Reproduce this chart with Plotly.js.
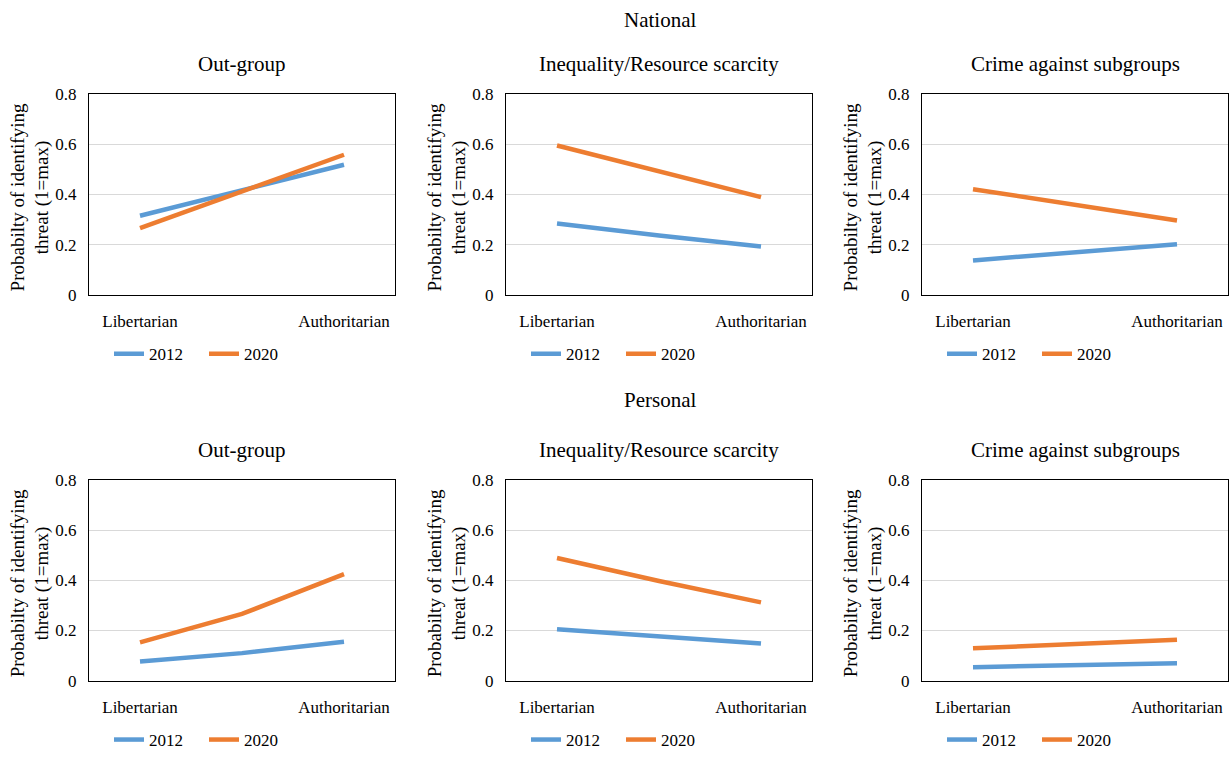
<!DOCTYPE html>
<html>
<head>
<meta charset="utf-8">
<script src="https://cdn.plot.ly/plotly-3.0.1.min.js"></script>
<style>
html,body{margin:0;padding:0;background:#fff;width:1231px;height:758px;overflow:hidden;}
#chart{width:1231px;height:758px;overflow:hidden;}
</style>
</head>
<body>
<div id="chart"></div>
<script>
// ---- data ----
const categories = ["Libertarian", "Middle", "Authoritarian"];
const shownTicks = ["Libertarian", "Authoritarian"];
const seriesNames = ["2012", "2020"];
const panelTitles = ["Out-group", "Inequality/Resource scarcity", "Crime against subgroups",
                     "Out-group", "Inequality/Resource scarcity", "Crime against subgroups"];
const sectionTitles = ["National", "Personal"];
const yTickVals = [0, 0.2, 0.4, 0.6, 0.8];
const yTickText = ["0", "0.2", "0.4", "0.6", "0.8"];

const national_outgroup_2012   = [0.315, 0.418, 0.518];
const national_outgroup_2020   = [0.266, 0.414, 0.558];
const national_inequality_2012 = [0.284, 0.236, 0.193];
const national_inequality_2020 = [0.595, 0.491, 0.389];
const national_crime_2012      = [0.137, 0.168, 0.202];
const national_crime_2020      = [0.421, 0.357, 0.296];
const personal_outgroup_2012   = [0.077, 0.110, 0.155];
const personal_outgroup_2020   = [0.153, 0.266, 0.425];
const personal_inequality_2012 = [0.205, 0.176, 0.148];
const personal_inequality_2020 = [0.489, 0.397, 0.312];
const personal_crime_2012      = [0.054, 0.062, 0.070];
const personal_crime_2020      = [0.129, 0.146, 0.163];

const panelSeries = [
  [national_outgroup_2012, national_outgroup_2020],
  [national_inequality_2012, national_inequality_2020],
  [national_crime_2012, national_crime_2020],
  [personal_outgroup_2012, personal_outgroup_2020],
  [personal_inequality_2012, personal_inequality_2020],
  [personal_crime_2012, personal_crime_2020]
];

// ---- styling / layout ----
const W = 1231, H = 758;
const colors = ["#5B9BD5", "#ED7D31"];
const FONT = "Liberation Serif";
const boxLeft = [89, 506, 922];
const boxWidth = 306;
const rowTop = [95, 485];
const boxHeight = 203;

const px2x = p => p / W;
const px2y = p => 1 - p / H;

const traces = [];
const layout = {
  width: W, height: H,
  margin: {l: 0, r: 0, t: 0, b: 0},
  paper_bgcolor: "#fff", plot_bgcolor: "#fff",
  font: {family: FONT, size: 17, color: "#000"},
  showlegend: true,
  annotations: []
};

for (let p = 0; p < 6; p++) {
  const col = p % 3, row = Math.floor(p / 3);
  const idx = p === 0 ? "" : String(p + 1);
  const xa = "x" + idx, ya = "y" + idx;
  const lg = "legend" + idx;
  const x0 = boxLeft[col], x1 = x0 + boxWidth;
  const yTop = rowTop[row], yBot = yTop + boxHeight;

  panelSeries[p].forEach((vals, s) => {
    traces.push({
      type: "scatter", mode: "lines",
      x: categories, y: vals, name: seriesNames[s],
      xaxis: xa, yaxis: ya, legend: lg,
      line: {color: colors[s], width: 4.5},
      hoverinfo: "x+y+name"
    });
  });

  layout["xaxis" + idx] = {
    domain: [px2x(x0), px2x(x1)], anchor: ya,
    type: "category", categoryorder: "array", categoryarray: categories,
    range: [-0.5, 2.5],
    tickvals: shownTicks, ticktext: shownTicks,
    showgrid: false, zeroline: false,
    showline: true, mirror: true, linecolor: "#000", linewidth: 1,
    ticks: "", ticklabelstandoff: 11,
    tickfont: {family: FONT, size: 17, color: "#000"},
    fixedrange: true
  };
  layout["yaxis" + idx] = {
    domain: [px2y(yBot), px2y(yTop)], anchor: xa,
    range: [0, 0.8],
    tickvals: yTickVals, ticktext: yTickText,
    showgrid: true, gridcolor: "#D9D9D9", gridwidth: 1,
    zeroline: false,
    showline: true, mirror: true, linecolor: "#000", linewidth: 1,
    ticks: "", ticklabelstandoff: 8,
    tickfont: {family: FONT, size: 17, color: "#000"},
    fixedrange: true
  };
  layout[lg] = {
    orientation: "h",
    x: px2x((x0 + x1) / 2 - 38), xanchor: "center",
    y: px2y(yBot + 60), yanchor: "middle",
    font: {family: FONT, size: 17, color: "#000"},
    bgcolor: "rgba(0,0,0,0)",
    entrywidth: 50, entrywidthmode: "pixels",
    traceorder: "normal"
  };
  // panel title
  layout.annotations.push({
    text: panelTitles[p], xref: "paper", yref: "paper",
    x: px2x((x0 + x1) / 2), y: px2y(yTop - 30),
    xanchor: "center", yanchor: "middle", showarrow: false,
    font: {family: FONT, size: 21, color: "#000"}
  });
  // y axis title
  layout.annotations.push({
    text: "Probabilty of identifying<br>threat (1=max)", xref: "paper", yref: "paper",
    x: px2x(x0 - 59), y: px2y((yTop + yBot) / 2 + 3),
    xanchor: "center", yanchor: "middle", showarrow: false, textangle: -90,
    font: {family: FONT, size: 19, color: "#000"}
  });
}

// section titles
[20, 404].forEach((py, i) => {
  layout.annotations.push({
    text: sectionTitles[i], xref: "paper", yref: "paper",
    x: px2x(660), y: px2y(py),
    xanchor: "center", yanchor: "middle", showarrow: false,
    font: {family: FONT, size: 21, color: "#000"}
  });
});

Plotly.newPlot("chart", traces, layout, {displayModeBar: false, staticPlot: true});
</script>
</body>
</html>
